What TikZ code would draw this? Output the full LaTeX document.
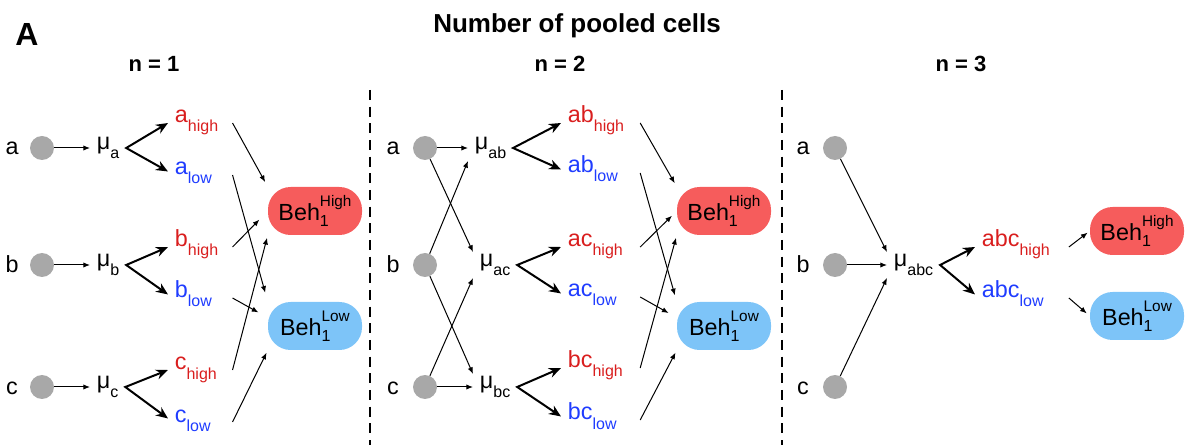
\documentclass[tikz,border=0pt]{standalone}
\usepackage{fontspec}
\setmainfont{Liberation Sans}
\usetikzlibrary{arrows.meta}
\definecolor{HighRed}{HTML}{D91E1E}
\definecolor{LowBlue}{HTML}{1F3CFF}
\definecolor{BehRed}{HTML}{F65C5C}
\definecolor{BehBlue}{HTML}{7DC4F8}
\definecolor{CellGray}{HTML}{A8A8A8}
\newcommand{\sublab}[2]{#1\raisebox{-6.75pt}{\fontsize{12}{12}\selectfont #2}}
\newcommand{\behlab}[1]{Beh\rlap{\raisebox{-4.5pt}{\fontsize{12}{12}\selectfont 1}}\raisebox{10.5pt}{\fontsize{11.5}{12}\selectfont #1}}

\begin{document}
\begin{tikzpicture}[x=0.75pt,y=-0.75pt,font=\fontsize{17.5}{20}\selectfont]
\tikzset{cell/.style={circle,fill=CellGray,minimum size=18pt,inner sep=0pt},
         cellname/.style={anchor=base,inner sep=0pt},
         mu/.style={anchor=west,inner xsep=5pt,inner ysep=1.5pt},
         lbl/.style={anchor=base west,inner xsep=5pt,inner ysep=1.5pt,align=left,text width=#1},
         beh/.style={rounded corners=17pt,minimum width=70.5pt,minimum height=36pt,inner sep=0pt},
         arr/.style={-{Latex[length=5pt,width=4pt]},line width=.75pt},
         fork/.style={{Stealth[length=9pt,width=7.5pt]}-{Stealth[length=9pt,width=7.5pt]},line width=1.5pt},
         divider/.style={dash pattern=on 7.5pt off 5pt,line width=1.5pt}}
\useasboundingbox (0,0) rectangle (1193,445);
\node[anchor=base,font=\bfseries\fontsize{24}{26}\selectfont] (panel) at (27,46) {A};
\node[anchor=base,font=\bfseries\fontsize{19.5}{22}\selectfont] (title) at (577,33) {Number of pooled cells};
\node[anchor=base,font=\bfseries\fontsize{16.5}{18}\selectfont] (n1) at (154,72) {n = 1};
\node[anchor=base,font=\bfseries\fontsize{16.5}{18}\selectfont] (n2) at (560,72) {n = 2};
\node[anchor=base,font=\bfseries\fontsize{16.5}{18}\selectfont] (n3) at (961,72) {n = 3};
\draw[divider] (370,90) -- (370,445); \draw[divider] (782,90) -- (782,445);
% n = 1
\foreach \c/\y/\b in {a/148/155,b/265/273,c/387/394}{
  \node[cell] (\c1) at (42,\y) {}; \node[cellname] (name\c1) at (12,\b) {\c};}
\node[mu] (mua) at (90,148) {\sublab{μ}{a}};
\node[mu] (mub) at (90,265) {\sublab{μ}{b}};
\node[mu] (muc) at (90,387) {\sublab{μ}{c}};
\node[lbl=38pt,text=HighRed] (ahigh) at (168,123) {\sublab{a}{high}};
\node[lbl=38pt,text=LowBlue] (alow) at (168,175) {\sublab{a}{low}};
\node[lbl=38pt,text=HighRed] (bhigh) at (168,247) {\sublab{b}{high}};
\node[lbl=38pt,text=LowBlue] (blow) at (168,298) {\sublab{b}{low}};
\node[lbl=38pt,text=HighRed] (chigh) at (168,370) {\sublab{c}{high}};
\node[lbl=38pt,text=LowBlue] (clow) at (168,422) {\sublab{c}{low}};
\node[beh,fill=BehRed] (behh1) at (315,211) {\behlab{High}};
\node[beh,fill=BehBlue] (behl1) at (315,326) {\behlab{Low}};
\draw[arr] (a1)--(mua); \draw[arr] (b1)--(mub); \draw[arr] (c1)--(muc);
\draw[fork] (ahigh.base west)--(mua.east)--(alow.mid west);
\draw[fork] (bhigh.base west)--(mub.east)--(blow.mid west);
\draw[fork] (chigh.base west)--(muc.east)--(clow.mid west);
\draw[arr,shorten >=4pt] (ahigh.base east)--(behh1.north west); \draw[arr,shorten >=7pt] (alow.base east)--(behl1.north west);
\draw[arr,shorten >=9pt] (bhigh.base east)--(behh1.west); \draw[arr,shorten >=8pt] (blow.base east)--(behl1.170);
\draw[arr,shorten >=2pt] (chigh.base east)--(behh1.south west); \draw[arr,shorten >=2pt] (clow.base east)--(behl1.south west);
% n = 2
\foreach \c/\y/\b in {a/148/155,b/265/273,c/387/394}{
  \node[cell] (\c2) at (425,\y) {}; \node[cellname] (name\c2) at (393,\b) {\c};}
\node[mu] (muab) at (468,148) {\sublab{μ}{ab}};
\node[mu] (muac) at (473,265) {\sublab{μ}{ac}};
\node[mu] (mubc) at (473,387) {\sublab{μ}{bc}};
\node[lbl=49pt,text=HighRed] (abhigh) at (561,123) {\sublab{ab}{high}};
\node[lbl=49pt,text=LowBlue] (ablow) at (561,173) {\sublab{ab}{low}};
\node[lbl=49pt,text=HighRed] (achigh) at (561,247) {\sublab{ac}{high}};
\node[lbl=49pt,text=LowBlue] (aclow) at (561,297) {\sublab{ac}{low}};
\node[lbl=49pt,text=HighRed] (bchigh) at (561,368) {\sublab{bc}{high}};
\node[lbl=49pt,text=LowBlue] (bclow) at (561,420) {\sublab{bc}{low}};
\node[beh,fill=BehRed] (behh2) at (724,211) {\behlab{High}};
\node[beh,fill=BehBlue] (behl2) at (724,326) {\behlab{Low}};
\draw[arr] (a2)--(muab); \draw[arr] (a2)--(muac.north west);
\draw[arr] (b2)--(muab.south west); \draw[arr] (b2)--(mubc.north west);
\draw[arr] (c2)--(muac.south west); \draw[arr] (c2)--(mubc);
\draw[fork] (abhigh.base west)--(muab.east)--(ablow.mid west);
\draw[fork] (achigh.base west)--(muac.east)--(aclow.mid west);
\draw[fork] (bchigh.base west)--(mubc.east)--(bclow.mid west);
\draw[arr,shorten >=3pt] (abhigh.base east)--(behh2.north west); \draw[arr,shorten >=5pt] (ablow.base east)--(behl2.north west);
\draw[arr,shorten >=5pt] (achigh.base east)--(behh2.west); \draw[arr,shorten >=7pt] (aclow.base east)--(behl2.170);
\draw[arr,shorten >=2pt] (bchigh.base east)--(behh2.south west); \draw[arr,shorten >=2pt] (bclow.base east)--(behl2.south west);
% n = 3
\foreach \c/\y/\b in {a/148/155,b/265/273,c/387/394}{
  \node[cell] (\c3) at (835,\y) {}; \node[cellname] (name\c3) at (803,\b) {\c};}
\node[mu] (muabc) at (887,265) {\sublab{μ}{abc}};
\node[lbl=60pt,text=HighRed] (abchigh) at (975,247) {\sublab{abc}{high}};
\node[lbl=60pt,text=LowBlue] (abclow) at (975,298) {\sublab{abc}{low}};
\node[beh,fill=BehRed] (behh3) at (1137,231) {\behlab{High}};
\node[beh,fill=BehBlue] (behl3) at (1137,316) {\behlab{Low}};
\draw[arr] (a3)--(muabc.north west); \draw[arr] (b3)--(muabc); \draw[arr] (c3)--(muabc.south west);
\draw[fork] (abchigh.base west)--(muabc.east)--(abclow.mid west);
\draw[arr,shorten >=2pt] (abchigh.base east)--(behh3.west); \draw[arr,shorten >=3pt] (abclow.base east)--(behl3.west);
\end{tikzpicture}
\end{document}
